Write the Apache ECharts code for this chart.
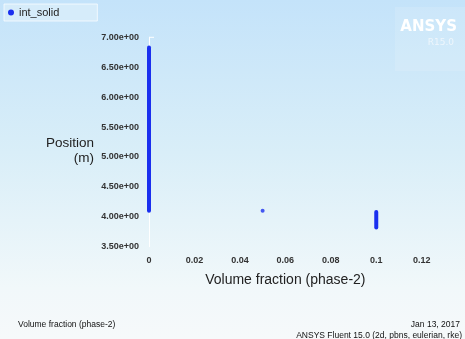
<!DOCTYPE html>
<html><head><meta charset="utf-8">
<script src="https://cdn.jsdelivr.net/npm/echarts@6/dist/echarts.min.js"></script>
<style>html,body{margin:0;padding:0;background:#fff}#c{width:465px;height:339px}</style>
</head><body><div id="c"></div>
<script>
const seriesName = 'int_solid';
// column of points at x = 0 (top and bottom ends)
const colZero = [[0, 6.83], [0, 4.10]];
// single point
const midPoint = [[0.05, 4.10]];
// column at x = 0.1
const colTenth = [[0.1, 4.08], [0.1, 3.82]];
const yTicks = [3.5, 4.0, 4.5, 5.0, 5.5, 6.0, 6.5, 7.0];
const xTicks = [0, 0.02, 0.04, 0.06, 0.08, 0.1, 0.12];
const yTitle = 'Position\n(m)';
const xTitle = 'Volume fraction (phase-2)';

const chart = echarts.init(document.getElementById('c'));
const blue = '#1a2fef';
function fmtE(v){ const s = v.toExponential(2); const p = s.split('e'); let e = p[1]; const sign = e[0]; let d = e.slice(1); if (d.length < 2) d = '0' + d; return p[0] + 'e' + sign + d; }
chart.setOption({
  animation: false,
  backgroundColor: {
    type: 'linear', x: 0, y: 0, x2: 0, y2: 1,
    colorStops: [{offset: 0, color: '#c4e3fa'}, {offset: 0.45, color: '#d9eef8'}, {offset: 0.85, color: '#f1f8fa'}, {offset: 1, color: '#f6f9fa'}]
  },
  legend: {
    show: true, left: 4, top: 4, itemWidth: 6, itemHeight: 6, icon: 'circle', itemGap: 4,
    padding: [3, 38, 3, 4], backgroundColor: 'rgba(215,236,250,0.9)', borderColor: 'rgba(255,255,255,0.7)', borderWidth: 1,
    textStyle: {fontFamily: 'Liberation Sans', fontSize: 11, color: '#222'},
    data: [{name: seriesName, itemStyle: {color: blue}}]
  },
  grid: {left: 149, right: 43.3, top: 37.3, bottom: 92.3},
  xAxis: {
    type: 'value', min: 0, max: 0.12, interval: 0.02,
    name: xTitle, nameLocation: 'middle', nameGap: 26,
    nameTextStyle: {fontFamily: 'Liberation Sans', fontSize: 14, color: '#222'},
    axisLine: {show: false}, axisTick: {show: false}, splitLine: {show: false},
    axisLabel: {margin: 9, fontFamily: 'Liberation Sans', fontSize: 9, fontWeight: 'bold', color: '#333',
      formatter: v => (xTicks.indexOf(+v.toFixed(2)) >= 0 ? String(+v.toFixed(2)) : '')}
  },
  yAxis: {
    type: 'value', min: 3.5, max: 7.0, interval: 0.5,
    axisLine: {show: true, lineStyle: {color: '#ffffff', width: 1}},
    axisTick: {show: false}, splitLine: {show: false},
    axisLabel: {margin: 10, fontFamily: 'Liberation Sans', fontSize: 9, fontWeight: 'bold', color: '#333',
      formatter: v => fmtE(v)}
  },
  graphic: [
    {type: 'rect', left: 395, top: 7, shape: {width: 70, height: 64}, style: {fill: 'rgba(255,255,255,0.12)'}, silent: true},
    {type: 'text', right: 8, top: 20, style: {text: 'ANSYS', fill: '#ffffff', font: 'bold 15px "DejaVu Sans"'}},
    {type: 'text', right: 11, top: 38, style: {text: 'R15.0', fill: '#eef6fc', font: '9px "DejaVu Sans"'}},
    {type: 'line', shape: {x1: 149, y1: 37.3, x2: 154, y2: 37.3}, style: {stroke: '#ffffff', lineWidth: 1}},
    {type: 'text', x: 94, y: 136, style: {text: yTitle, fill: '#222', font: '13.5px "Liberation Sans"', align: 'right', verticalAlign: 'top', lineHeight: 15}},
    {type: 'text', left: 18, top: 320, style: {text: 'Volume fraction (phase-2)', fill: '#111', font: '8.5px "Liberation Sans"'}},
    {type: 'text', right: 5, top: 320, style: {text: 'Jan 13, 2017', fill: '#111', font: '8.5px "Liberation Sans"', align: 'right'}},
    {type: 'text', right: 3, top: 331, style: {text: 'ANSYS Fluent 15.0 (2d, pbns, eulerian, rke)', fill: '#111', font: '8.5px "Liberation Sans"', align: 'right'}}
  ],
  series: [
    {name: seriesName, type: 'line', data: colZero, showSymbol: false, symbol: 'circle', itemStyle: {color: blue},
      lineStyle: {color: blue, width: 4, cap: 'round'}},
    {name: seriesName, type: 'scatter', data: midPoint, symbol: 'circle', symbolSize: 4, itemStyle: {color: blue}},
    {name: seriesName, type: 'line', data: colTenth, showSymbol: false, symbol: 'circle', itemStyle: {color: blue},
      lineStyle: {color: blue, width: 4, cap: 'round'}}
  ]
});
</script></body></html>
